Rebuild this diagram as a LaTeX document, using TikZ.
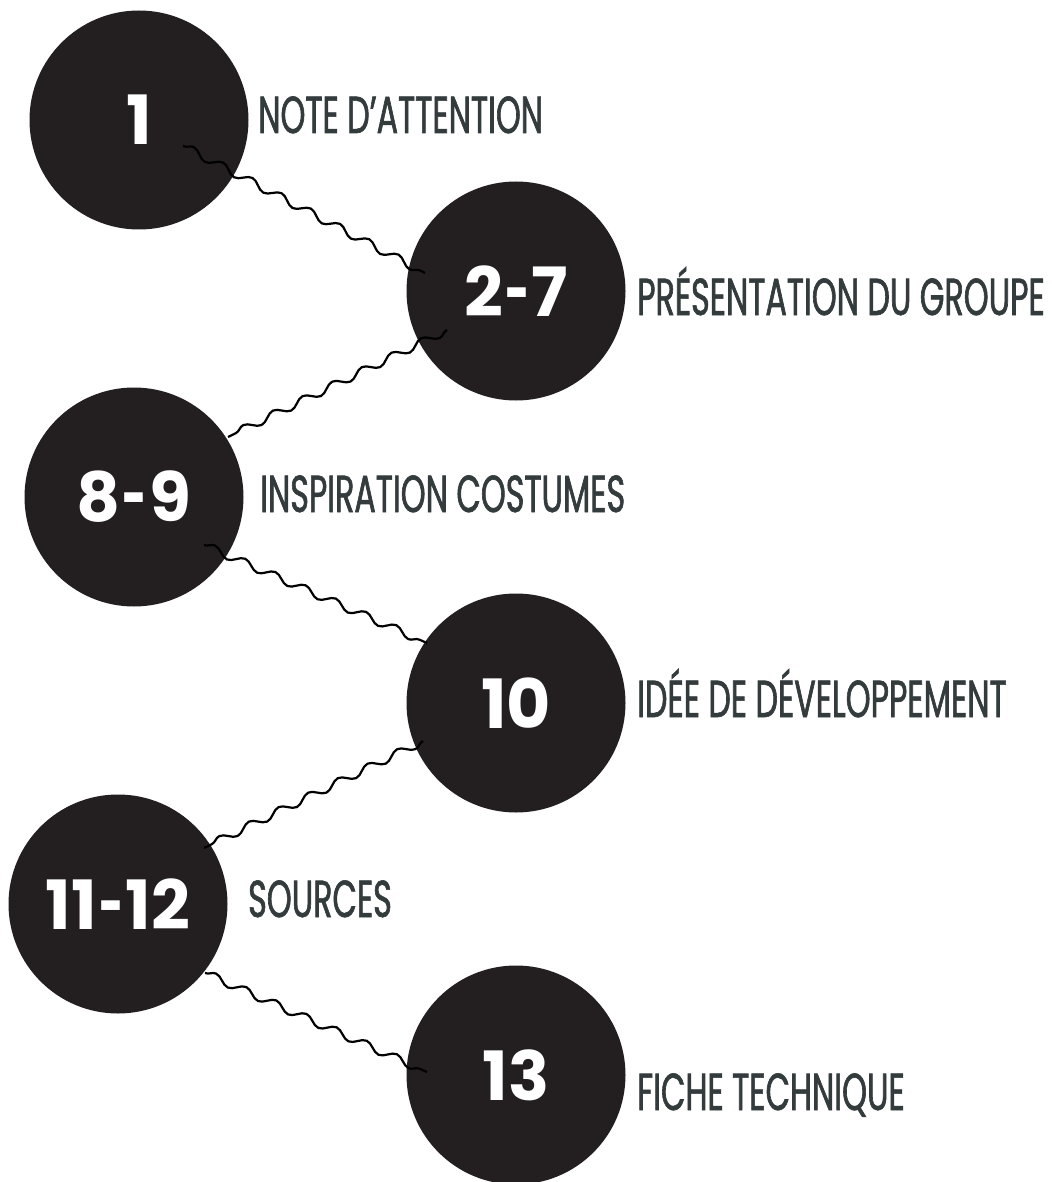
\documentclass[tikz,border=0pt]{standalone}
\usepackage{fontspec}
\usepackage{xcolor}
\usepackage{tikz}
\usetikzlibrary{calc,decorations.pathmorphing}
\newfontfamily\numfont{Poppins}
\newfontfamily\labfont[FakeStretch=0.61,FakeBold=1.2]{Poppins}
\newcommand{\nd}{\kern0.03em\scalebox{0.62}[1]{-}\kern0.03em}
\definecolor{discfill}{HTML}{231F20}
\definecolor{ink}{HTML}{343B3D}
\tikzset{
  disc/.style={circle, fill=discfill, minimum size=219pt, inner sep=0pt,
    text=white, font=\numfont\bfseries\fontsize{68}{68}\selectfont},
  lab/.style={anchor=base west, inner sep=0pt, text=ink,
    font=\labfont\fontsize{52}{52}\selectfont},
  wave/.style={draw=black, line width=2.2pt, decorate,
    decoration={snake, segment length=33pt, amplitude=4pt}}
}

\begin{document}
\begin{tikzpicture}[x=1pt,y=-1pt]
  \useasboundingbox (0,0) rectangle (1051,1182);

  \node[disc] (p1)    at (139,120)  {1};
  \node[disc] (p27)   at (516,291)  {2\nd7};
  \node[disc] (p89)   at (134,497)  {8\nd9};
  \node[disc] (p10)   at (516,703)  {10};
  \node[disc] (p1112) at (118,904)  {11\nd12};
  \node[disc] (p13)   at (516,1075) {13};

  \node[lab] (l1)    at (258,133)  {NOTE D’ATTENTION};
  \node[lab] (l27)   at (637,315)  {PRÉSENTATION DU GROUPE};
  \node[lab] (l89)   at (260,512)  {INSPIRATION COSTUMES};
  \node[lab] (l10)   at (637,717)  {IDÉE DE DÉVELOPPEMENT};
  \node[lab] (l1112) at (248,917)  {SOURCES};
  \node[lab] (l13)   at (637,1110) {FICHE TECHNIQUE};

  % wavy links, drawn over the discs
  \draw[wave] ($(p1)+(44,26)$)    -- ($(p27)+(-91,-18)$);
  \draw[wave] ($(p27)+(-69,39)$)  -- ($(p89)+(94,-60)$);
  \draw[wave] ($(p89)+(70,48)$)   -- ($(p10)+(-89,-60)$);
  \draw[wave] ($(p10)+(-93,38)$)  -- ($(p1112)+(86,-56)$);
  \draw[wave] ($(p1112)+(87,69)$) -- ($(p13)+(-89,-3)$);
\end{tikzpicture}
\end{document}
